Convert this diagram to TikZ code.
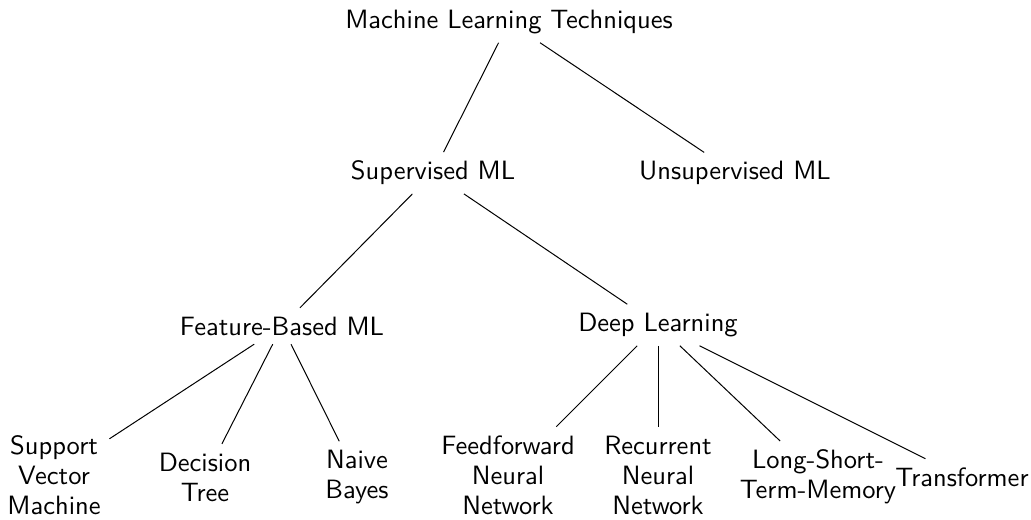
\documentclass[tikz,border=0pt]{standalone}
\usepackage{tikz}

\begin{document}
\begin{tikzpicture}[x=0.4pt,y=-0.4pt,
                    tech node/.style={font=\sffamily\fontsize{10.6}{12}\selectfont,align=center}]
\useasboundingbox (0,0) rectangle (1031,519);
\node[tech node] (mlt) at (509,22) {Machine Learning Techniques};
\node[tech node] (sup) at (433,173) {Supervised ML};
\node[tech node] (unsup) at (735,173) {Unsupervised ML};
\node[tech node] (feat) at (282,326) {Feature-Based ML};
\node[tech node] (deep) at (658,325) {Deep Learning};
\node[tech node] (svm) at (54,475) {Support\\Vector\\Machine};
\node[tech node] (dt) at (205,477) {Decision\\Tree};
\node[tech node] (nb) at (357,477) {Naive\\Bayes};
\node[tech node] (ffnn) at (508,475) {Feedforward\\Neural\\Network};
\node[tech node] (rnn) at (658,475) {Recurrent\\Neural\\Network};
\node[tech node] (lstm) at (818,477) {Long-Short-\\Term-Memory};
\node[tech node] (trans) at (962,477) {Transformer};

\path[draw]
(mlt) edge (sup)
      edge (unsup)
(sup) edge (feat)
      edge (deep)
(feat) edge (svm)
       edge (dt)
       edge (nb)
(deep) edge (ffnn)
       edge (rnn)
       edge (lstm)
       edge (trans);
\end{tikzpicture}
\end{document}
